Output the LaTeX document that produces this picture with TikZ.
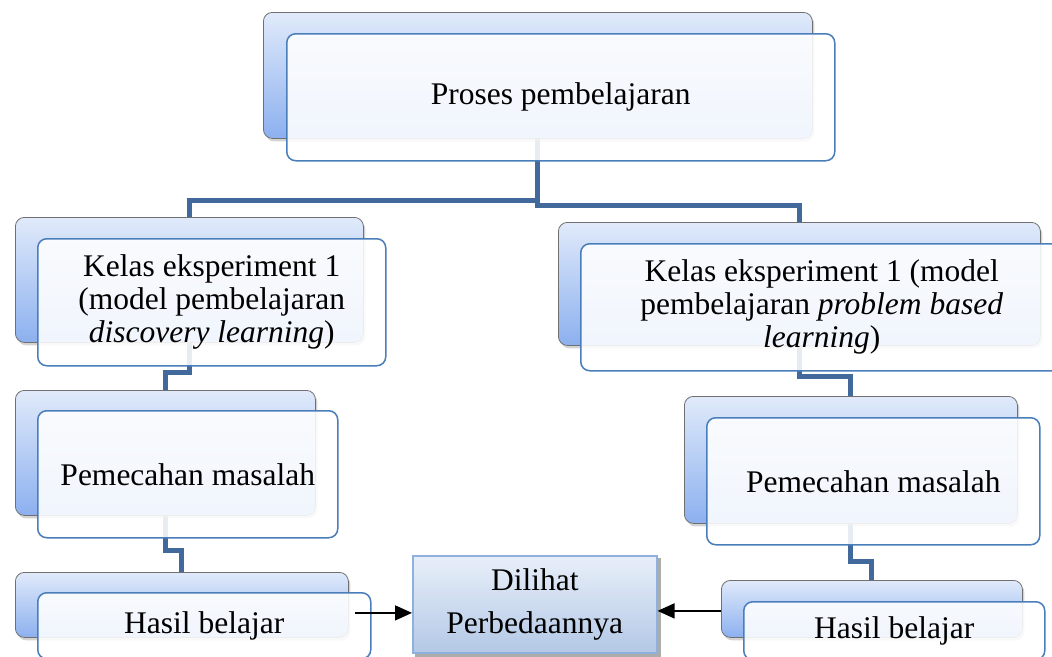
\documentclass[tikz,border=0pt]{standalone}
\usepackage{fontspec}
\setmainfont{Liberation Serif}
\usetikzlibrary{arrows.meta,shadows}
\definecolor{connc}{HTML}{41699B}
\definecolor{backtop}{HTML}{E0EAFA}
\definecolor{backbot}{HTML}{8CB0EF}
\definecolor{frontline}{HTML}{4A7EBB}
\definecolor{backline}{HTML}{707070}
\definecolor{midtop}{HTML}{E8EFF9}
\definecolor{midbot}{HTML}{B3C8E6}
\definecolor{midline}{HTML}{8DB0DC}
\pgfdeclarelayer{bg}
\pgfsetlayers{bg,main}
\begin{document}
\begin{tikzpicture}[x=1pt,y=-1pt,
  backbox/.style={draw=backline, line width=0.8pt, rounded corners=9pt, top color=backtop, bottom color=backbot, anchor=north west, inner sep=0pt, drop shadow={opacity=0.35, shadow xshift=2pt, shadow yshift=-3pt}},
  frontbox/.style={draw=frontline, line width=1.5pt, rounded corners=9pt, fill=white, fill opacity=0.88, text opacity=1, anchor=north west, inner sep=0pt, align=center, font=\fontsize{31.5}{33}\selectfont},
  midbox/.style={draw=midline, line width=1.5pt, top color=midtop, bottom color=midbot, anchor=north west, inner sep=0pt, align=center, font=\fontsize{31.5}{43}\selectfont},
  link/.style={draw=connc, line width=5pt, line join=miter},
  arr/.style={draw=black, line width=1.5pt, -{Triangle[length=17pt,width=15pt]}}
]
\useasboundingbox (0,0) rectangle (1052,656);
\clip (0,0) rectangle (1052,656);

% top
\node[backbox, minimum width=549pt, minimum height=126pt] (topB) at (263,12) {};
\node[frontbox, minimum width=548pt, minimum height=127pt] (topF) at (286,33) {Proses pembelajaran};

% left column
\node[backbox, minimum width=348pt, minimum height=125pt] (l1B) at (15,217) {};
\node[frontbox, minimum width=348pt, minimum height=127pt] (l1F) at (37,238) {Kelas eksperiment 1\\(model pembelajaran\\\textit{discovery learning})};

\node[backbox, minimum width=300pt, minimum height=125pt] (l2B) at (15,390) {};
\node[frontbox, minimum width=300pt, minimum height=127pt] (l2F) at (37,410) {Pemecahan masalah};

\node[backbox, minimum width=333pt, minimum height=65pt] (l3B) at (15,572) {};
\node[frontbox, minimum width=333pt, minimum height=66pt] (l3F) at (37,592) {Hasil belajar};

% right column
\node[backbox, minimum width=482pt, minimum height=123pt] (r1B) at (558,222) {};
\node[frontbox, minimum width=482pt, minimum height=127pt] (r1F) at (580,243) {Kelas eksperiment 1 (model\\pembelajaran \textit{problem based}\\\textit{learning})};

\node[backbox, minimum width=333pt, minimum height=127pt] (r2B) at (684,396) {};
\node[frontbox, minimum width=333pt, minimum height=127pt] (r2F) at (706,417) {Pemecahan masalah};

\node[backbox, minimum width=301pt, minimum height=57pt] (r3B) at (721,580) {};
\node[frontbox, minimum width=301pt, minimum height=58pt] (r3F) at (743,601) {Hasil belajar};

% middle
\node[midbox, minimum width=244pt, minimum height=97pt] (mid) at (412,555) {Dilihat\\Perbedaannya};

\begin{pgfonlayer}{bg}
  \fill[gray!65] ([shift={(3pt,-3pt)}]mid.south west) rectangle ([shift={(3pt,-3pt)}]mid.north east);
  \draw[link] (topB.south) -- ++(0,62) -| (l1B.north);
  \draw[link] (topB.south) -- ++(0,67) -| (r1B.north);
  \draw[link] (l1B.south) -- ++(0,30) -| (l2B.north);
  \draw[link] (l2B.south) -- ++(0,35) -| (l3B.north);
  \draw[link] (r1B.south) -- ++(0,31) -| (r2B.north);
  \draw[link] (r2B.south) -- ++(0,38) -| (r3B.north);
\end{pgfonlayer}

\coordinate (la) at ([shift={(6pt,-8pt)}]l3B.east);
\coordinate (ra) at ([shift={(0pt,-2pt)}]r3B.west);
\draw[arr] (la) -- (la -| mid.west);
\draw[arr] (ra) -- (ra -| mid.east);
\end{tikzpicture}
\end{document}
